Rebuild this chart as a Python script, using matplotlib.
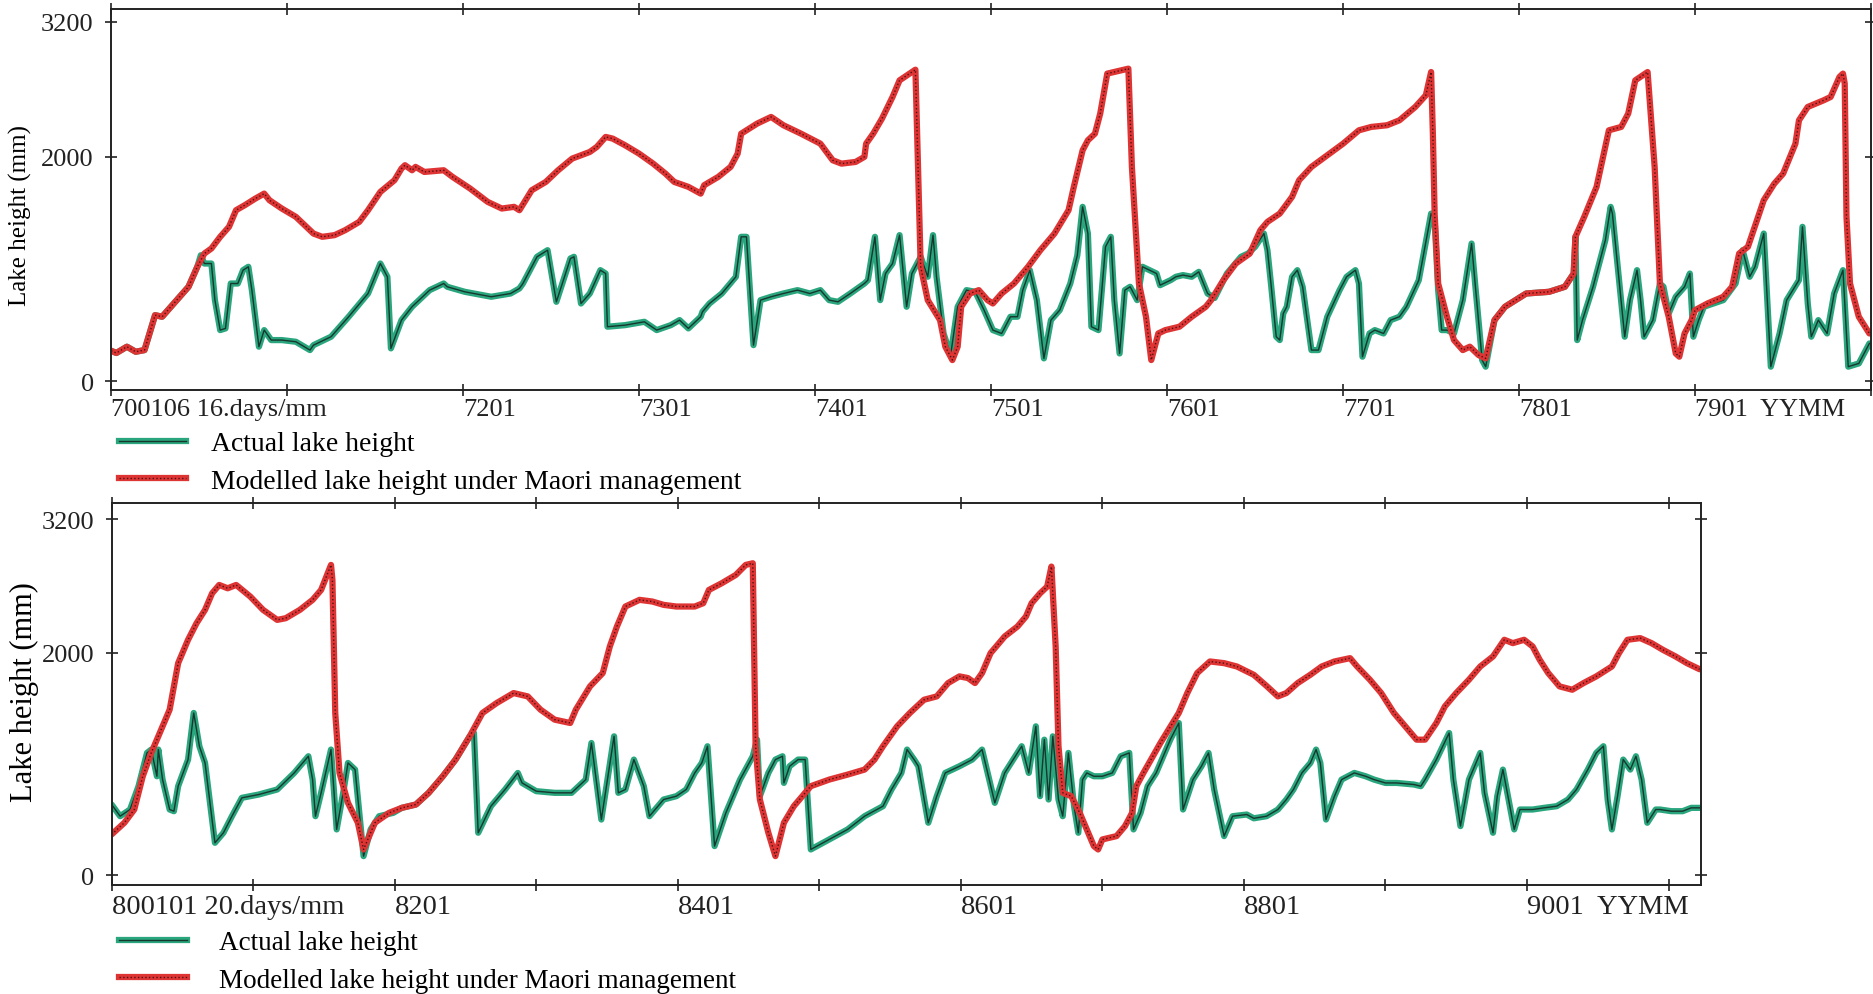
import numpy as np
import matplotlib
matplotlib.use("Agg")
import matplotlib.pyplot as plt
from matplotlib.lines import Line2D
from matplotlib.legend_handler import HandlerTuple

plt.rcParams['font.family'] = ['Liberation Serif', 'DejaVu Serif']

# ---- 1970-1980 panel (time in decimal years, lake height in mm) ----
top_ticks = list(range(1970, 1981))
top_ticklabels = ['700106 16.days/mm', '', '7201', '7301', '7401', '7501',
                  '7601', '7701', '7801', '7901  YYMM', '']

top_model_t = [1970.00, 1970.03, 1970.09, 1970.14, 1970.19, 1970.25, 1970.29, 1970.34, 1970.39, 1970.44,
               1970.49, 1970.53, 1970.57, 1970.62, 1970.67, 1970.71, 1970.76, 1970.82, 1970.87, 1970.90,
               1970.97, 1971.05, 1971.15, 1971.20, 1971.27, 1971.33, 1971.41, 1971.46, 1971.53, 1971.61,
               1971.65, 1971.67, 1971.71, 1971.73, 1971.78, 1971.89, 1971.94, 1972.04, 1972.14, 1972.22,
               1972.29, 1972.32, 1972.39, 1972.47, 1972.54, 1972.62, 1972.67, 1972.72, 1972.76, 1972.81,
               1972.85, 1972.92, 1973.00, 1973.08, 1973.15, 1973.20, 1973.28, 1973.35, 1973.37, 1973.45,
               1973.52, 1973.56, 1973.58, 1973.67, 1973.75, 1973.82, 1973.92, 1974.03, 1974.10, 1974.15,
               1974.23, 1974.28, 1974.29, 1974.33, 1974.38, 1974.44, 1974.48, 1974.57, 1974.60, 1974.64,
               1974.71, 1974.74, 1974.78, 1974.81, 1974.83, 1974.88, 1974.93, 1974.98, 1975.01, 1975.06,
               1975.13, 1975.21, 1975.28, 1975.36, 1975.44, 1975.47, 1975.52, 1975.55, 1975.59, 1975.62,
               1975.66, 1975.78, 1975.80, 1975.84, 1975.88, 1975.91, 1975.95, 1975.99, 1976.07, 1976.14,
               1976.22, 1976.25, 1976.32, 1976.39, 1976.47, 1976.53, 1976.57, 1976.64, 1976.71, 1976.75,
               1976.82, 1976.91, 1977.00, 1977.09, 1977.16, 1977.25, 1977.32, 1977.41, 1977.47, 1977.50,
               1977.51, 1977.52, 1977.54, 1977.59, 1977.63, 1977.68, 1977.72, 1977.77, 1977.81, 1977.86,
               1977.92, 1978.04, 1978.17, 1978.26, 1978.31, 1978.32, 1978.37, 1978.44, 1978.51, 1978.58,
               1978.62, 1978.66, 1978.73, 1978.77, 1978.80, 1978.85, 1978.89, 1978.91, 1978.94, 1978.98,
               1979.00, 1979.07, 1979.16, 1979.21, 1979.25, 1979.30, 1979.39, 1979.45, 1979.50, 1979.57,
               1979.59, 1979.64, 1979.73, 1979.77, 1979.82, 1979.84, 1979.85, 1979.86, 1979.88, 1979.93,
               1979.99]
top_model_h = [270, 250, 306, 261, 276, 587, 573, 662, 751, 840,
               1018, 1136, 1181, 1285, 1374, 1522, 1567, 1626, 1670, 1611,
               1537, 1463, 1314, 1285, 1300, 1344, 1418, 1522, 1685, 1789,
               1893, 1923, 1878, 1908, 1863, 1878, 1819, 1715, 1596, 1537,
               1552, 1522, 1700, 1774, 1878, 1982, 2012, 2041, 2086, 2175,
               2160, 2101, 2026, 1937, 1848, 1774, 1730, 1670, 1745, 1819,
               1908, 2026, 2204, 2293, 2353, 2279, 2204, 2115, 1967, 1937,
               1952, 1997, 2115, 2204, 2338, 2531, 2679, 2774, 1018, 721,
               543, 306, 187, 306, 662, 780, 810, 721, 691, 780,
               869, 1018, 1166, 1314, 1522, 1730, 2056, 2145, 2204, 2383,
               2739, 2783, 1908, 869, 573, 187, 424, 454, 484, 573,
               662, 721, 899, 1047, 1136, 1344, 1418, 1492, 1641, 1789,
               1908, 2012, 2115, 2234, 2264, 2279, 2323, 2442, 2546, 2753,
               2204, 1492, 869, 573, 365, 276, 306, 231, 202, 543,
               662, 780, 795, 840, 958, 1285, 1463, 1730, 2234, 2264,
               2383, 2679, 2753, 1908, 869, 573, 246, 217, 424, 543,
               632, 691, 751, 840, 1136, 1196, 1611, 1759, 1848, 2115,
               2323, 2442, 2501, 2531, 2709, 2739, 2650, 1463, 869, 573,
               424]

top_actual_t = [1970.00, 1970.03, 1970.09, 1970.14, 1970.19, 1970.25, 1970.29, 1970.34, 1970.39, 1970.44,
                1970.49, 1970.51, 1970.53, 1970.57, 1970.59, 1970.62, 1970.65, 1970.68, 1970.72, 1970.75,
                1970.78, 1970.80, 1970.84, 1970.87, 1970.91, 1970.97, 1971.05, 1971.13, 1971.15, 1971.25,
                1971.35, 1971.46, 1971.53, 1971.57, 1971.59, 1971.65, 1971.71, 1971.81, 1971.89, 1971.91,
                1972.01, 1972.16, 1972.27, 1972.32, 1972.34, 1972.42, 1972.48, 1972.53, 1972.61, 1972.63,
                1972.67, 1972.72, 1972.78, 1972.81, 1972.82, 1972.92, 1973.03, 1973.10, 1973.18, 1973.23,
                1973.28, 1973.35, 1973.36, 1973.40, 1973.47, 1973.55, 1973.58, 1973.61, 1973.65, 1973.69,
                1973.75, 1973.82, 1973.90, 1973.97, 1974.03, 1974.08, 1974.13, 1974.20, 1974.28, 1974.30,
                1974.34, 1974.37, 1974.40, 1974.44, 1974.48, 1974.52, 1974.55, 1974.60, 1974.64, 1974.67,
                1974.69, 1974.73, 1974.77, 1974.81, 1974.86, 1974.91, 1974.96, 1975.01, 1975.06, 1975.11,
                1975.15, 1975.18, 1975.22, 1975.26, 1975.30, 1975.34, 1975.39, 1975.45, 1975.49, 1975.52,
                1975.55, 1975.57, 1975.61, 1975.65, 1975.68, 1975.70, 1975.73, 1975.76, 1975.79, 1975.83,
                1975.86, 1975.90, 1975.94, 1975.96, 1976.02, 1976.05, 1976.09, 1976.14, 1976.18, 1976.23,
                1976.27, 1976.34, 1976.42, 1976.46, 1976.50, 1976.55, 1976.57, 1976.59, 1976.62, 1976.64,
                1976.66, 1976.68, 1976.71, 1976.74, 1976.77, 1976.82, 1976.86, 1976.91, 1976.98, 1977.02,
                1977.07, 1977.09, 1977.11, 1977.15, 1977.18, 1977.23, 1977.27, 1977.32, 1977.36, 1977.43,
                1977.50, 1977.52, 1977.54, 1977.56, 1977.59, 1977.63, 1977.68, 1977.73, 1977.75, 1977.79,
                1977.81, 1977.86, 1977.92, 1978.04, 1978.17, 1978.26, 1978.31, 1978.32, 1978.33, 1978.36,
                1978.42, 1978.49, 1978.52, 1978.53, 1978.57, 1978.60, 1978.63, 1978.67, 1978.69, 1978.71,
                1978.76, 1978.80, 1978.82, 1978.85, 1978.89, 1978.94, 1978.97, 1978.99, 1979.02, 1979.05,
                1979.16, 1979.23, 1979.27, 1979.31, 1979.34, 1979.39, 1979.43, 1979.48, 1979.52, 1979.59,
                1979.61, 1979.64, 1979.66, 1979.70, 1979.75, 1979.79, 1979.84, 1979.87, 1979.93, 1979.99]
top_actual_h = [270, 250, 306, 261, 276, 587, 573, 662, 751, 840,
                1018, 1121, 1047, 1047, 721, 454, 469, 869, 869, 988,
                1018, 810, 306, 454, 365, 365, 350, 276, 320, 395,
                573, 780, 1047, 929, 291, 543, 662, 810, 869, 840,
                795, 751, 780, 825, 869, 1107, 1166, 706, 1092, 1107,
                691, 780, 988, 958, 484, 498, 528, 454, 498, 543,
                469, 573, 617, 691, 780, 929, 1285, 1285, 320, 721,
                751, 780, 810, 780, 810, 721, 706, 780, 869, 899,
                1285, 721, 958, 1047, 1300, 662, 958, 1107, 929, 1300,
                929, 424, 231, 662, 810, 795, 632, 454, 424, 573,
                573, 810, 988, 721, 202, 543, 632, 869, 1121, 1552,
                1314, 484, 454, 1196, 1285, 721, 246, 810, 840, 721,
                1018, 988, 958, 854, 899, 929, 944, 929, 973, 780,
                740, 958, 1107, 1136, 1196, 1314, 1166, 869, 395, 365,
                602, 662, 929, 988, 840, 276, 276, 573, 810, 929,
                988, 869, 217, 424, 454, 424, 543, 573, 662, 899,
                1492, 1433, 810, 454, 454, 424, 721, 1225, 869, 187,
                128, 543, 662, 780, 795, 840, 958, 1285, 365, 543,
                840, 1255, 1552, 1492, 869, 395, 721, 988, 721, 395,
                543, 869, 840, 602, 751, 840, 958, 395, 543, 662,
                721, 869, 1166, 929, 1018, 1314, 128, 424, 721, 899,
                1374, 691, 395, 543, 424, 780, 988, 128, 157, 335]

# ---- 1980-1991 panel ----
bot_ticks = list(range(1980, 1992))
bot_ticklabels = ['800101 20.days/mm', '', '8201', '', '8401', '', '8601', '',
                  '8801', '', '9001  YYMM', '']

bot_model_t = [1980.00, 1980.09, 1980.16, 1980.22, 1980.28, 1980.35, 1980.41, 1980.47, 1980.54, 1980.60,
               1980.66, 1980.71, 1980.76, 1980.82, 1980.88, 1980.98, 1981.07, 1981.17, 1981.23, 1981.33,
               1981.42, 1981.48, 1981.55, 1981.56, 1981.58, 1981.61, 1981.67, 1981.74, 1981.78, 1981.86,
               1981.96, 1982.05, 1982.15, 1982.24, 1982.34, 1982.43, 1982.53, 1982.62, 1982.72, 1982.84,
               1982.94, 1983.03, 1983.13, 1983.24, 1983.28, 1983.38, 1983.47, 1983.52, 1983.57, 1983.63,
               1983.73, 1983.82, 1983.90, 1983.99, 1984.12, 1984.18, 1984.22, 1984.31, 1984.41, 1984.48,
               1984.53, 1984.55, 1984.58, 1984.64, 1984.69, 1984.75, 1984.82, 1984.94, 1985.07, 1985.20,
               1985.32, 1985.39, 1985.45, 1985.55, 1985.64, 1985.74, 1985.83, 1985.91, 1985.99, 1986.05,
               1986.10, 1986.15, 1986.21, 1986.31, 1986.40, 1986.46, 1986.50, 1986.56, 1986.61, 1986.64,
               1986.67, 1986.69, 1986.72, 1986.78, 1986.84, 1986.94, 1986.97, 1987.00, 1987.10, 1987.16,
               1987.21, 1987.24, 1987.29, 1987.41, 1987.54, 1987.60, 1987.67, 1987.76, 1987.86, 1987.95,
               1988.07, 1988.16, 1988.24, 1988.30, 1988.38, 1988.47, 1988.55, 1988.64, 1988.75, 1988.80,
               1988.89, 1988.97, 1989.06, 1989.14, 1989.22, 1989.28, 1989.36, 1989.42, 1989.50, 1989.59,
               1989.67, 1989.76, 1989.84, 1989.90, 1989.98, 1990.04, 1990.09, 1990.15, 1990.23, 1990.32,
               1990.40, 1990.49, 1990.60, 1990.65, 1990.71, 1990.80, 1990.88, 1990.96, 1991.05, 1991.13,
               1991.22]
bot_model_h = [365, 470, 589, 888, 1098, 1307, 1487, 1905, 2115, 2264,
               2384, 2533, 2608, 2578, 2608, 2503, 2384, 2294, 2309, 2384,
               2474, 2563, 2788, 2653, 1457, 918, 649, 470, 230, 470,
               559, 604, 634, 739, 888, 1038, 1247, 1457, 1546, 1636,
               1606, 1487, 1397, 1367, 1487, 1696, 1816, 2055, 2234, 2414,
               2474, 2459, 2429, 2414, 2414, 2444, 2563, 2623, 2698, 2788,
               2803, 1158, 679, 380, 170, 470, 619, 799, 858, 903,
               948, 1038, 1158, 1337, 1457, 1576, 1606, 1726, 1786, 1771,
               1726, 1816, 1995, 2145, 2234, 2324, 2444, 2533, 2593, 2773,
               2055, 1158, 739, 709, 559, 260, 230, 320, 350, 440,
               559, 799, 918, 1187, 1457, 1636, 1816, 1920, 1905, 1875,
               1800, 1700, 1606, 1636, 1726, 1801, 1875, 1920, 1950, 1875,
               1756, 1636, 1457, 1337, 1217, 1217, 1367, 1516, 1636, 1756,
               1875, 1965, 2115, 2085, 2115, 2055, 1935, 1816, 1696, 1666,
               1726, 1786, 1875, 1995, 2115, 2130, 2085, 2025, 1965, 1905,
               1850]

bot_actual_t = [1980.00, 1980.06, 1980.13, 1980.19, 1980.25, 1980.28, 1980.32, 1980.33, 1980.36, 1980.41,
                1980.44, 1980.47, 1980.54, 1980.58, 1980.62, 1980.66, 1980.73, 1980.79, 1980.85, 1980.92,
                1981.04, 1981.17, 1981.29, 1981.39, 1981.42, 1981.44, 1981.48, 1981.55, 1981.59, 1981.64,
                1981.67, 1981.72, 1981.78, 1981.83, 1981.89, 1981.99, 1982.05, 1982.15, 1982.24, 1982.34,
                1982.43, 1982.53, 1982.56, 1982.59, 1982.68, 1982.78, 1982.87, 1982.90, 1983.00, 1983.13,
                1983.25, 1983.35, 1983.39, 1983.46, 1983.55, 1983.58, 1983.63, 1983.69, 1983.76, 1983.80,
                1983.90, 1983.99, 1984.06, 1984.12, 1984.17, 1984.21, 1984.26, 1984.34, 1984.44, 1984.53,
                1984.56, 1984.58, 1984.64, 1984.69, 1984.74, 1984.75, 1984.79, 1984.85, 1984.90, 1984.94,
                1985.07, 1985.20, 1985.32, 1985.45, 1985.51, 1985.58, 1985.62, 1985.67, 1985.70, 1985.77,
                1985.83, 1985.89, 1985.99, 1986.08, 1986.15, 1986.24, 1986.31, 1986.37, 1986.43, 1986.48,
                1986.53, 1986.56, 1986.59, 1986.62, 1986.65, 1986.69, 1986.72, 1986.76, 1986.80, 1986.83,
                1986.86, 1986.89, 1986.94, 1987.00, 1987.07, 1987.13, 1987.19, 1987.22, 1987.27, 1987.32,
                1987.38, 1987.48, 1987.54, 1987.57, 1987.64, 1987.70, 1987.75, 1987.79, 1987.86, 1987.92,
                1988.02, 1988.07, 1988.16, 1988.24, 1988.30, 1988.35, 1988.41, 1988.47, 1988.51, 1988.54,
                1988.58, 1988.64, 1988.69, 1988.78, 1988.86, 1988.92, 1989.00, 1989.08, 1989.20, 1989.25,
                1989.28, 1989.36, 1989.45, 1989.48, 1989.53, 1989.59, 1989.67, 1989.70, 1989.76, 1989.79,
                1989.83, 1989.87, 1989.91, 1989.95, 1990.04, 1990.12, 1990.21, 1990.29, 1990.35, 1990.43,
                1990.49, 1990.54, 1990.57, 1990.60, 1990.64, 1990.68, 1990.73, 1990.77, 1990.81, 1990.85,
                1990.91, 1990.94, 1991.02, 1991.10, 1991.16, 1991.22]
bot_actual_h = [634, 529, 589, 799, 1098, 1128, 888, 1128, 858, 589,
                574, 799, 1038, 1457, 1158, 1008, 290, 380, 529, 694,
                724, 769, 918, 1068, 858, 529, 739, 1128, 410, 769,
                1008, 948, 170, 410, 529, 559, 604, 634, 739, 888,
                1038, 1247, 1277, 380, 619, 769, 918, 828, 754, 739,
                739, 858, 1187, 499, 1247, 739, 769, 1038, 799, 529,
                679, 709, 769, 918, 1008, 1158, 260, 559, 858, 1068,
                1217, 709, 918, 1038, 1068, 828, 978, 1038, 1038, 230,
                320, 410, 529, 619, 769, 918, 1128, 1038, 978, 470,
                709, 918, 978, 1038, 1128, 649, 918, 1038, 1158, 918,
                1337, 709, 1217, 679, 1247, 679, 529, 1098, 619, 380,
                858, 918, 888, 888, 918, 1068, 1098, 410, 559, 799,
                918, 1217, 1367, 589, 858, 978, 1098, 769, 350, 529,
                544, 510, 529, 589, 679, 769, 918, 1008, 1128, 1008,
                499, 709, 858, 918, 888, 858, 828, 828, 814, 799,
                858, 1038, 1277, 858, 440, 858, 1098, 739, 380, 709,
                948, 679, 410, 589, 589, 604, 619, 679, 769, 948,
                1098, 1158, 679, 410, 709, 1038, 948, 1068, 858, 470,
                589, 589, 574, 574, 604, 604]

GREEN, GREEN_CORE = '#2aa67e', '#17362c'
RED, RED_CORE = '#de3434', '#4d1212'


def draw_pair(ax, t, h, color, core, core_ls):
    ax.plot(t, h, color=color, lw=4.5, solid_joinstyle='round', solid_capstyle='round')
    ax.plot(t, h, color=core, lw=1.0, ls=core_ls)


def style_panel(ax, ticks, ticklabels, xlim, ylim, fs, pad):
    ax.set_xlim(*xlim)
    ax.set_ylim(*ylim)
    ax.set_xticks(ticks)
    ax.set_xticklabels(ticklabels, ha='left', fontsize=fs)
    ax.set_yticks([0, 2000, 3200])
    ax.set_yticklabels(['0', '2000', '3200'], fontsize=19)
    ax.tick_params(axis='x', direction='inout', length=9, width=1.2, top=True, pad=pad, colors='#222222')
    ax.tick_params(axis='y', direction='inout', length=9, width=1.2, right=True, pad=8, colors='#222222')
    for sp in ax.spines.values():
        sp.set_linewidth(1.4)
        sp.set_color('#222222')


fig = plt.figure(figsize=(18.73, 9.95), dpi=100)

ax_top = fig.add_axes([0.0593, 0.607, 0.9397, 0.383])
draw_pair(ax_top, top_actual_t, top_actual_h, GREEN, GREEN_CORE, '-')
draw_pair(ax_top, top_model_t, top_model_h, RED, RED_CORE, ':')
style_panel(ax_top, top_ticks, top_ticklabels, (1970, 1980), (-80, 3315), 19, 1)
ax_top.set_ylabel('Lake height (mm)', fontsize=18)
ax_top.yaxis.set_label_coords(-0.045, 0.46)

ax_bot = fig.add_axes([0.0596, 0.1095, 0.8486, 0.384])
draw_pair(ax_bot, bot_actual_t, bot_actual_h, GREEN, GREEN_CORE, '-')
draw_pair(ax_bot, bot_model_t, bot_model_h, RED, RED_CORE, ':')
style_panel(ax_bot, bot_ticks, bot_ticklabels, (1980, 1991.23), (-90, 3345), 20.5, 2)
ax_bot.set_ylabel('Lake height (mm)', fontsize=22)
ax_bot.yaxis.set_label_coords(-0.046, 0.508)

labels = ['Actual lake height', 'Modelled lake height under Maori management']
handles = [(Line2D([], [], color=GREEN, lw=4.5), Line2D([], [], color=GREEN_CORE, lw=1.0)),
           (Line2D([], [], color=RED, lw=4.5), Line2D([], [], color=RED_CORE, lw=1.0, ls=':'))]
hmap = {tuple: HandlerTuple(ndivide=1, pad=0)}

ax_top.legend(handles, labels, handler_map=hmap,
              loc='upper left', bbox_to_anchor=(0.0635, 0.566), bbox_transform=fig.transFigure,
              frameon=False, fontsize=20, borderpad=0, borderaxespad=0,
              handlelength=2.4, handletextpad=0.9, labelspacing=0.45)
ax_bot.legend(handles, labels, handler_map=hmap,
              loc='upper left', bbox_to_anchor=(0.0635, 0.064), bbox_transform=fig.transFigure,
              frameon=False, fontsize=19.5, borderpad=0, borderaxespad=0,
              handlelength=2.5, handletextpad=1.2, labelspacing=0.45)

fig.savefig('out.png', dpi=100, facecolor='white')
